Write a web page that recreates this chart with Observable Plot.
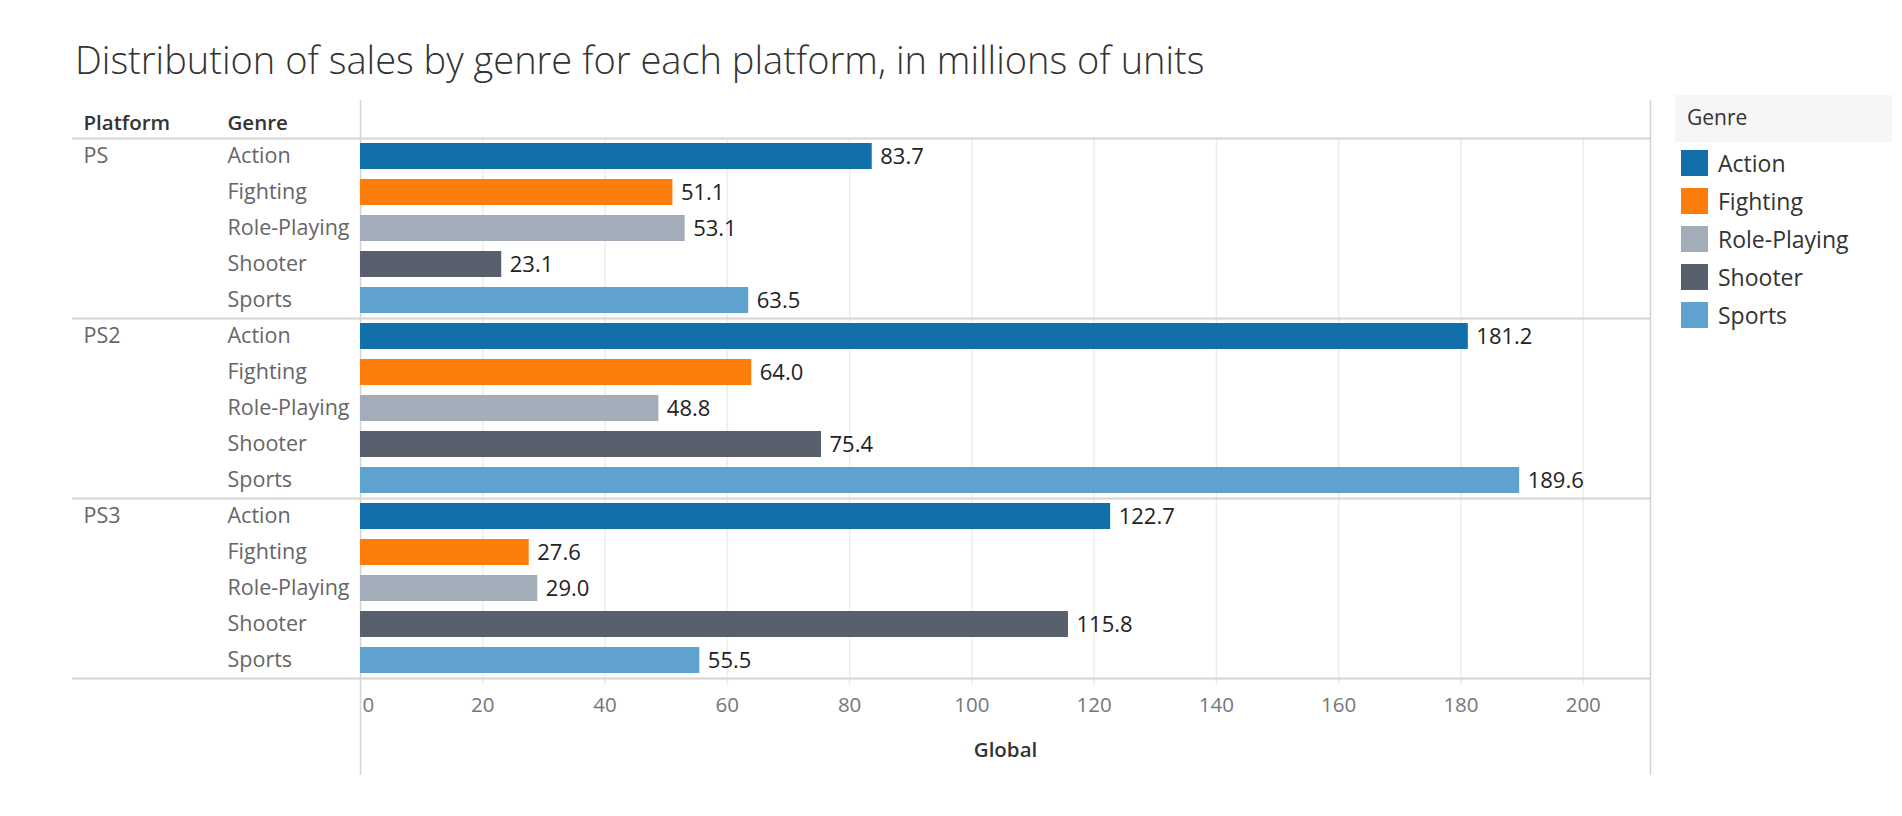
<!DOCTYPE html>
<html>
<head>
<meta charset="utf-8">
<script src="https://cdn.jsdelivr.net/npm/d3@7"></script>
<script src="https://cdn.jsdelivr.net/npm/@observablehq/plot@0.6"></script>
<style>
  html, body { margin: 0; padding: 0; background: #fff; }
  #page { position: relative; width: 1902px; height: 816px; font-family: "Open Sans", sans-serif; }
  #title { position: absolute; left: 75px; top: 33px; font-size: 38px; font-weight: 300; color: #333; white-space: nowrap; }
  #chart { position: absolute; left: 0; top: 95px; }
  #legend { position: absolute; left: 1675px; top: 95px; width: 217px; }
  #legend .head { height: 47px; line-height: 45px; background: #f6f6f6; padding-left: 12px; font-size: 21px; color: #333; margin-bottom: 2px; }
  #legend .item { height: 38px; display: flex; align-items: center; font-size: 23px; color: #333; }
  #legend .sw { width: 27px; height: 26px; margin-left: 6px; margin-right: 10px; }
</style>
</head>
<body>
<div id="page">
  <div id="title">Distribution of sales by genre for each platform, in millions of units</div>
  <div id="chart"></div>
  <div id="legend"></div>
</div>
<script>
// ---- data ----
const platforms = ["PS", "PS2", "PS3"];
const genres = ["Action", "Fighting", "Role-Playing", "Shooter", "Sports"];
const salesPS  = [83.7, 51.1, 53.1, 23.1, 63.5];
const salesPS2 = [181.2, 64.0, 48.8, 75.4, 189.6];
const salesPS3 = [122.7, 27.6, 29.0, 115.8, 55.5];
const genreColors = ["#1170aa", "#fc7d0b", "#a3acb9", "#57606c", "#5fa2ce"];
const xTicks = [0, 20, 40, 60, 80, 100, 120, 140, 160, 180, 200];
const xTitle = "Global";
const headers = ["Platform", "Genre"];
const legendTitle = "Genre";

const salesByPlatform = [salesPS, salesPS2, salesPS3];
const rows = [];
platforms.forEach((p, i) => genres.forEach((g, j) => rows.push({
  platform: p, genre: g, value: salesByPlatform[i][j], key: p + "|" + g, first: j === 0
})));
const keys = rows.map(d => d.key);
const firstRows = rows.filter(d => d.first);
const lastRow = rows.slice(-1);

const lineColor = "#d4d4d4";
const font = "'Open Sans', sans-serif";
const chart = Plot.plot({
  width: 1665,
  height: 700,
  marginTop: 43,
  marginBottom: 117,
  marginLeft: 360,
  marginRight: 15,
  style: { fontFamily: font, overflow: "visible" },
  x: { domain: [0, 211], axis: null },
  y: { domain: keys, axis: null, paddingInner: 0.28, paddingOuter: 0.14 },
  color: { domain: genres, range: genreColors },
  marks: [
    Plot.ruleX(xTicks.slice(1), { x: d => d, stroke: "#ececec", strokeWidth: 1.5, insetBottom: -7 }),
    Plot.ruleX([0, 211], { x: d => d, stroke: lineColor, strokeWidth: 1.5, insetTop: -38, insetBottom: -97 }),
    Plot.ruleY(firstRows, { y: "key", dy: -18, stroke: lineColor, strokeWidth: 2, insetLeft: -288 }),
    Plot.ruleY(lastRow, { y: "key", dy: 18, stroke: lineColor, strokeWidth: 2, insetLeft: -288 }),
    Plot.barX(rows, { x: "value", y: "key", fill: "genre" }),
    Plot.text(rows, { x: "value", y: "key", text: d => d.value.toFixed(1), dx: 8, textAnchor: "start", fontSize: 22, fill: "#222" }),
    Plot.text(rows, { y: "key", text: "genre", frameAnchor: "left", dx: -133, textAnchor: "start", fontSize: 21.5, fill: "#666" }),
    Plot.text(firstRows, { y: "key", text: "platform", frameAnchor: "left", dx: -277, textAnchor: "start", fontSize: 21.5, fill: "#666" }),
    Plot.text([headers[0]], { frameAnchor: "top-left", lineAnchor: "middle", dx: -277, dy: -15, text: d => d, textAnchor: "start", fontSize: 20.5, fontWeight: 600, fill: "#333" }),
    Plot.text([headers[1]], { frameAnchor: "top-left", lineAnchor: "middle", dx: -133, dy: -15, text: d => d, textAnchor: "start", fontSize: 20.5, fontWeight: 600, fill: "#333" }),
    Plot.text(xTicks.slice(0, 1), { x: d => d, text: d => String(d), frameAnchor: "bottom", lineAnchor: "middle", dy: 27, dx: 2, textAnchor: "start", fontSize: 20.5, fill: "#777" }),
    Plot.text(xTicks.slice(1), { x: d => d, text: d => String(d), frameAnchor: "bottom", lineAnchor: "middle", dy: 27, fontSize: 20.5, fill: "#777" }),
    Plot.text([xTitle], { frameAnchor: "bottom", lineAnchor: "middle", dy: 72, text: d => d, fontSize: 20.5, fontWeight: 600, fill: "#333" })
  ]
});
document.getElementById("chart").appendChild(chart);

const legend = document.getElementById("legend");
const head = document.createElement("div");
head.className = "head";
head.textContent = legendTitle;
legend.appendChild(head);
genres.forEach((g, i) => {
  const item = document.createElement("div");
  item.className = "item";
  const sw = document.createElement("div");
  sw.className = "sw";
  sw.style.background = genreColors[i];
  const lab = document.createElement("span");
  lab.textContent = g;
  item.appendChild(sw);
  item.appendChild(lab);
  legend.appendChild(item);
});
</script>
</body>
</html>
